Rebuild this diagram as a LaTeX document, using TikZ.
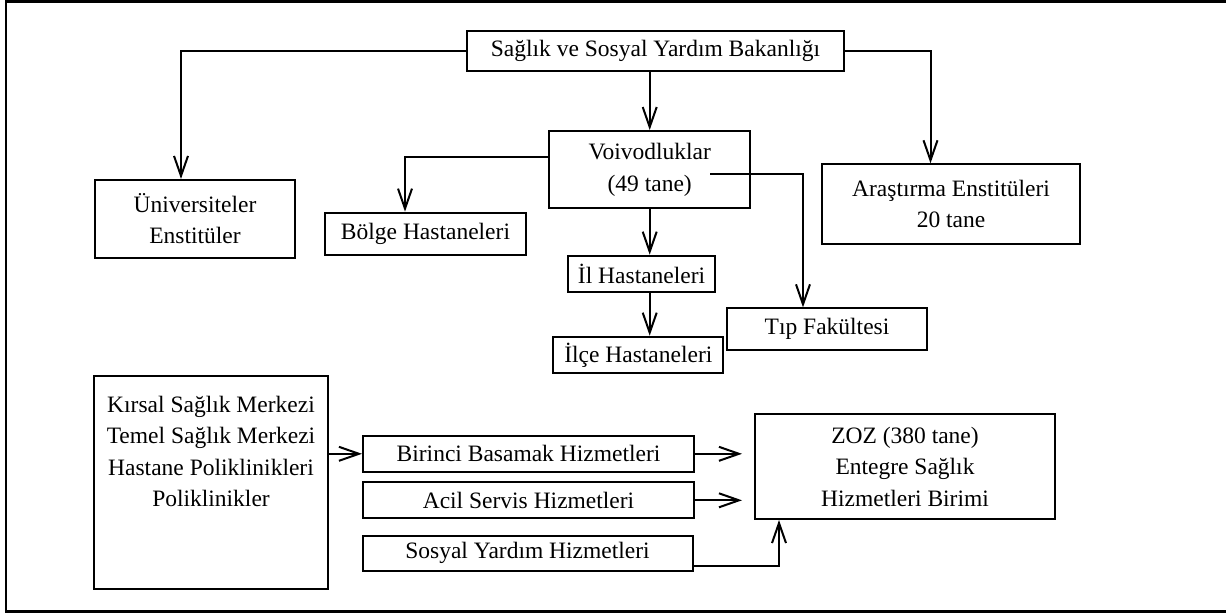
\documentclass[tikz,border=0pt]{standalone}
\usepackage{fontspec}
\setmainfont{Liberation Serif}
\usetikzlibrary{arrows.meta,positioning}
\tikzstyle{box} = [draw, line width=2pt, inner sep=0pt, align=center, font=\fontsize{23.5}{31.5}\selectfont]
\tikzstyle{arrow} = [line width=2pt,-{Straight Barb[length=20pt,width=14pt]}]

\begin{document}
\begin{tikzpicture}[x=1pt,y=-1pt]
    \useasboundingbox (0,0) rectangle (1226,614);
    \draw[line width=2.5pt] (1232,1.7) -- (6,1.7) -- (6,611.7) -- (1232,611.7);

    % Boxes
    \node [box, minimum width=377pt, minimum height=40pt] (bakanlik) at (655.5,50.7) {Sağlık ve Sosyal Yardım Bakanlığı};
    \node [box, minimum width=200pt, minimum height=77.7pt] (univ) at (195,218.8) {Üniversiteler\\Enstitüler};
    \node [box, minimum width=200.6pt, minimum height=77.3pt] (voivod) at (649.7,169.7) {Voivodluklar\\(49 tane)};
    \node [box, minimum width=201pt, minimum height=42.3pt] (bolge) at (425.5,233.8) {Bölge Hastaneleri};
    \node [box, minimum width=258pt, minimum height=79.4pt] (arastirma) at (951,204) {Araştırma Enstitüleri\\20 tane};
    \node [box, minimum width=147pt, minimum height=36pt] (ilhast) at (641.6,273.7) {İl Hastaneleri};
    \node [box, minimum width=200pt, minimum height=41.7pt] (tip) at (827,329.2) {Tıp Fakültesi};
    \node [box, minimum width=170pt, minimum height=36.6pt] (ilce) at (638.3,355) {İlçe Hastaneleri};
    \node [box, minimum width=234.3pt, minimum height=213pt] (kirsal) at (211,482.8) {Kırsal Sağlık Merkezi\\Temel Sağlık Merkezi\\Hastane Poliklinikleri\\Poliklinikler\\~\\~};
    \node [box, minimum width=331pt, minimum height=35.7pt] (birinci) at (528.5,453.8) {Birinci Basamak Hizmetleri};
    \node [box, minimum width=331pt, minimum height=36pt] (acil) at (528.5,500.3) {Acil Servis Hizmetleri};
    \node [box, minimum width=330pt, minimum height=35.3pt] (sosyal) at (527.5,553.3) {Sosyal Yardım Hizmetleri};
    \node [box, minimum width=300pt, minimum height=105pt] (zoz) at (905,466.5) {ZOZ (380 tane)\\Entegre Sağlık\\Hizmetleri Birimi};
    \coordinate (vtail) at ([xshift=60.3pt,yshift=-4.3pt]voivod.center);

    % Arrows
    \draw [arrow] (bakanlik.west) -| ([xshift=-14pt]univ.north);
    \draw [arrow] (bakanlik.south -| voivod.north) -- (voivod.north);
    \draw [arrow] (bakanlik.east) -| ([xshift=-20.5pt]arastirma.north);
    \draw [arrow] ([yshift=13pt]voivod.west) -| ([xshift=-20.5pt]bolge.north);
    \draw [arrow] (voivod.south) -- (voivod.south |- ilhast.north);
    \draw [arrow] (voivod.south |- ilhast.south) -- (voivod.south |- ilce.north);
    \draw [arrow] (vtail) -| ([xshift=-24pt]tip.north);
    \draw [arrow] (kirsal.east |- birinci.west) -- (birinci.west);
    \draw [arrow, shorten >=12pt] (birinci.east) -- (birinci.east -| zoz.west);
    \draw [arrow, shorten >=12pt] (acil.east) -- (acil.east -| zoz.west);
    \draw [arrow] ([yshift=-12.7pt]sosyal.east) -| ([xshift=-126pt]zoz.south);
\end{tikzpicture}
\end{document}
